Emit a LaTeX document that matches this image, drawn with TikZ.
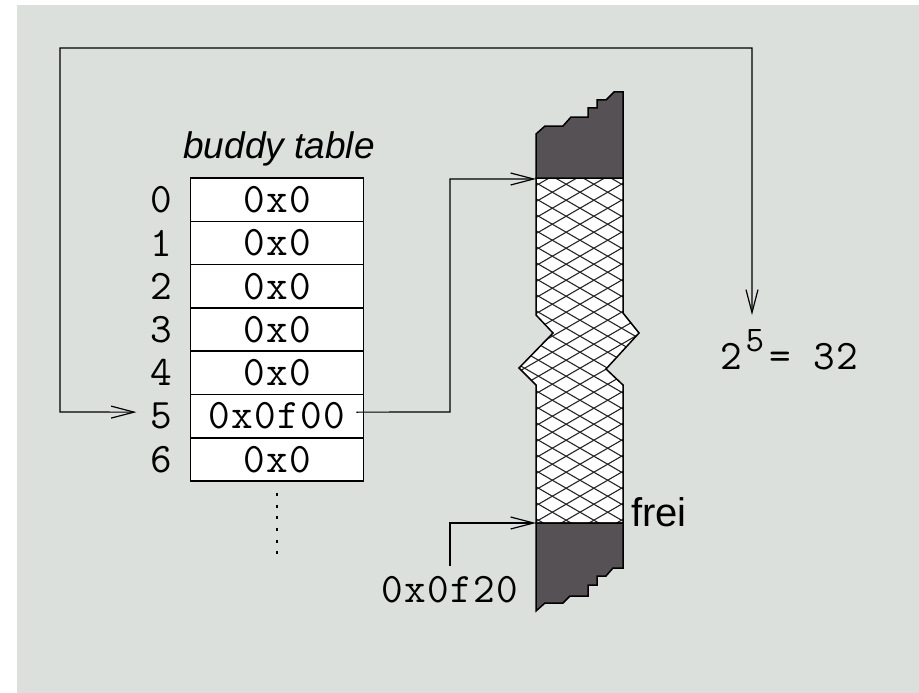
\documentclass[tikz,border=0pt]{standalone}
\usepackage{fontspec}
\setmainfont{Liberation Sans}
\newfontfamily\monof[LetterSpace=3]{Latin Modern Mono}
\usetikzlibrary{arrows.meta}
\definecolor{bg}{RGB}{220,224,221}
\definecolor{darkblk}{RGB}{86,81,85}
\tikzset{
  barb/.tip={Straight Barb[length=23pt,width=12pt,line width=1.2pt]},
  cell/.style={draw=black, line width=1.5pt, fill=white, minimum width=173pt,
    minimum height=43.3pt, inner sep=0pt, font=\monof\fontsize{42}{44}\selectfont},
  idx/.style={font=\monof\fontsize{42}{44}\selectfont, inner sep=0pt},
  monotext/.style={font=\monof\fontsize{42}{44}\selectfont, inner sep=0pt},
  conn/.style={line width=1.2pt, -barb},
  memline/.style={draw=black, line width=1.5pt, line join=miter},
  hl/.style={line width=1.1pt, black!85},
}
\begin{document}
\begin{tikzpicture}[x=1pt,y=-1pt]
\useasboundingbox (0,0) rectangle (919,693);
\fill[white] (0,0) rectangle (919,693);
\fill[bg] (17,5) rectangle (919,693);

% title
\node[font=\itshape\fontsize{37}{40}\selectfont, inner sep=0pt, anchor=base] (title) at (279,158) {buddy table};

% table
\foreach \i/\t in {0/0x0,1/0x0,2/0x0,3/0x0,4/0x0,5/0x0f00,6/0x0}{
  \node[cell] (r\i) at (277,{178+43.3*(\i+0.5)}) {\t};
  \node[idx] (i\i) at (161.5,{178+43.3*(\i+0.5)}) {\i};
}
\draw[line width=2pt, dash pattern=on 3pt off 8.67pt] ([yshift=-11pt]r6.south) -- ++(0,62);

% memory
\coordinate (memtop) at (536,179);
\coordinate (membot) at (536,523);
\begin{scope}
  \clip (536,178) -- (623,178) -- (623,313) -- (639,333) -- (606,369) -- (623,385) -- (623,523)
    -- (536,523) -- (536,385) -- (519,368) -- (553,333) -- (536,315) -- cycle;
  \fill[white] (500,170) rectangle (660,530);
  \foreach \k in {-7,...,23}{
    \draw[hl] (500,{178+16*\k}) -- (660,{178+16*\k+92.4});
    \draw[hl] (500,{178+16*\k+92.4}) -- (660,{178+16*\k});
  }
\end{scope}
\draw[memline] (536,178) -- (623,178) -- (623,313) -- (639,333) -- (606,369) -- (623,385) -- (623,523)
    -- (536,523) -- (536,385) -- (519,368) -- (553,333) -- (536,315) -- cycle;
\filldraw[memline, fill=darkblk] (536,178) -- (536,134) -- (545,126) -- (563,126) -- (571,117) -- (588,117)
  -- (588,108) -- (597,108) -- (597,100) -- (606,100) -- (614,92) -- (623,92) -- (623,178) -- cycle;
\filldraw[memline, fill=darkblk] (536,523) -- (536,611) -- (545,603) -- (563,603) -- (570,596) -- (588,596)
  -- (588,585) -- (597,585) -- (597,576) -- (606,576) -- (613,568) -- (623,568) -- (623,523) -- cycle;

\node[font=\fontsize{40}{42}\selectfont, inner sep=0pt, anchor=base west] (frei) at (631,526) {frei};
\node[monotext, anchor=base] (f20) at (450,602) {0x0f20};

% power
\node[monotext] (two) at (731,356.5) {2};
\node[font=\monof\fontsize{36}{38}\selectfont, inner sep=0pt] (sup) at (755,340.5) {5};
\node[monotext, anchor=base west] (eq) at (769,369) {= 32};

% connectors
\draw[line width=1.2pt, barb-barb] ([xshift=-14pt,yshift=4pt]i5.west) -- (60,412) -- (60,48) -- (752,48) -- (752,315);
\draw[conn] ([xshift=-8pt,yshift=4pt]r5.east) -- (450,412) |- (memtop);
\draw[conn] ([yshift=10pt]f20.north) |- (membot);
\end{tikzpicture}
\end{document}
